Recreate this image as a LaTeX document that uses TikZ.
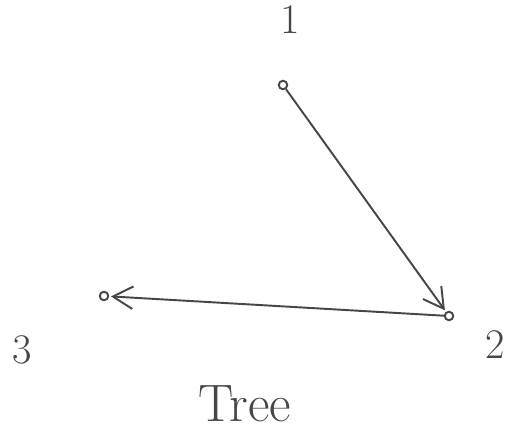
\documentclass[tikz,border=0pt]{standalone}
\usepackage{xcolor}
\definecolor{penGray}{RGB}{70,70,70}
\usetikzlibrary{arrows.meta, positioning}

\begin{document}
\begin{tikzpicture}[
  vertex/.style={circle, draw=penGray, line width=1.1pt, inner sep=0pt, minimum size=0.17cm},
  vlabel/.style={font=\fontsize{24}{28}\selectfont, text=penGray},
  edge/.style={-{Straight Barb[length=0.4cm, width=0.45cm]}, penGray, line width=1.1pt, shorten >=1pt}
]
\useasboundingbox (0,0) rectangle (10.14,8.8);

% ===== vertices =====
\node[vertex] (v1) at (5.66,7.10) {};
\node[vertex] (v2) at (8.98,2.48) {};
\node[vertex] (v3) at (2.08,2.88) {};

% labels
\node[vlabel] (l1) at (5.80,8.40) {1};
\node[vlabel] (l2) at (9.90,1.90) {2};
\node[vlabel] (l3) at (0.44,1.80) {3};

% ===== edges =====
\draw[edge] (v1) -- (v2);
\draw[edge] (v2) -- (v3);

% caption
\node[font=\fontsize{30}{34}\selectfont, text=penGray] (cap) at (4.90,0.72) {Tree};

\end{tikzpicture}
\end{document}
